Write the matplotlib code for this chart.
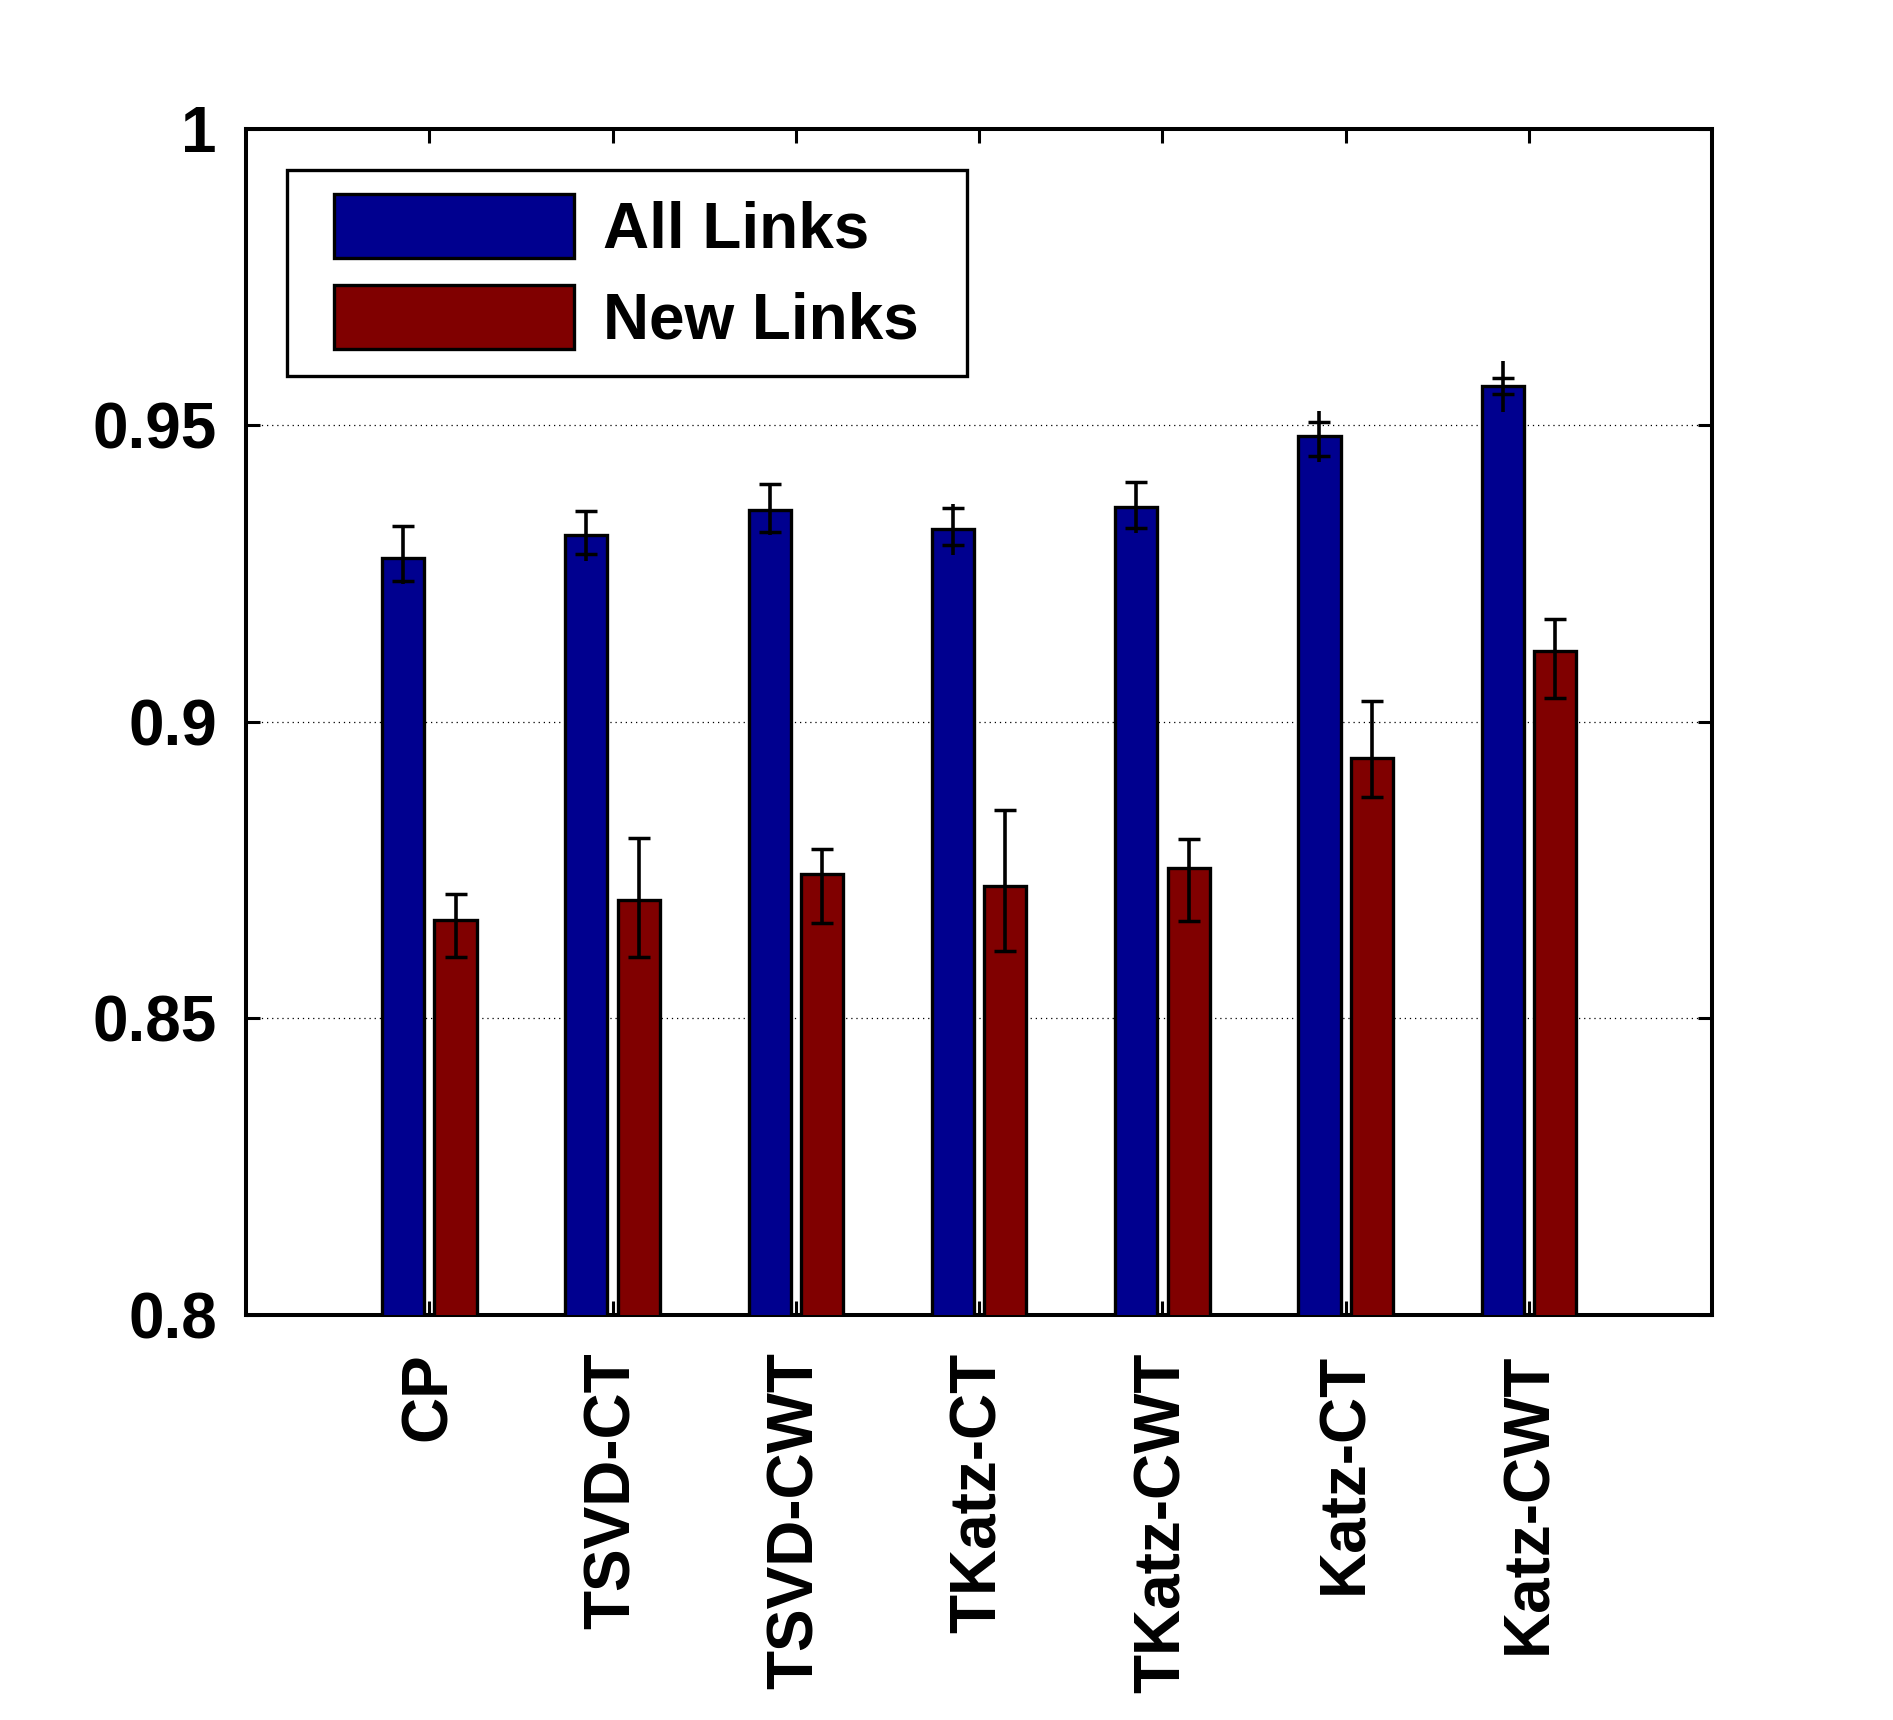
import matplotlib
matplotlib.use("Agg")
import matplotlib.pyplot as plt
from matplotlib.container import BarContainer
from matplotlib.legend_handler import HandlerPatch, update_from_first_child
import numpy as np

plt.rcParams['font.family'] = ['Liberation Sans', 'DejaVu Sans']
plt.rcParams['font.weight'] = 'bold'

# methods on the x axis
methods = ['CP', 'TSVD-CT', 'TSVD-CWT', 'TKatz-CT', 'TKatz-CWT', 'Katz-CT', 'Katz-CWT']

# bar heights
all_links = [0.9276, 0.9315, 0.9358, 0.9325, 0.9362, 0.9483, 0.9566]
new_links = [0.8666, 0.8700, 0.8743, 0.8724, 0.8753, 0.8939, 0.9119]

# error bar caps (low / high)
all_cap_lo = [0.9237, 0.9284, 0.9321, 0.9298, 0.9327, 0.9448, 0.9553]
all_cap_hi = [0.9330, 0.9355, 0.9402, 0.9361, 0.9404, 0.9506, 0.9580]
new_cap_lo = [0.8603, 0.8603, 0.8661, 0.8614, 0.8664, 0.8874, 0.9040]
new_cap_hi = [0.8710, 0.8804, 0.8785, 0.8852, 0.8802, 0.9035, 0.9173]

# whisker ends of the all-links error bars (they run past the caps a bit)
all_wh_lo = [0.9233, 0.9271, 0.9315, 0.9281, 0.9318, 0.9439, 0.9522]
all_wh_hi = [0.9330, 0.9355, 0.9402, 0.9367, 0.9404, 0.9525, 0.9608]

yticks = [0.8, 0.85, 0.9, 0.95, 1.0]
ytick_labels = ['0.8', '0.85', '0.9', '0.95', '1']

blue = '#00008F'
red = '#800000'
lw = 2.4
fs = 46

fig = plt.figure(figsize=(18.93, 17.2), dpi=100)
ax = fig.add_axes([0.130, 0.2355, 0.7745, 0.6895])

x = np.arange(1, len(methods) + 1)
off = 0.143
width = 0.23

ax.bar(x - off, all_links, width, bottom=0, color=blue, edgecolor='black',
       linewidth=lw, label='All Links', zorder=3)
ax.bar(x + off, new_links, width, bottom=0, color=red, edgecolor='black',
       linewidth=lw, label='New Links', zorder=3)

# whiskers
ax.vlines(x - off, all_wh_lo, all_wh_hi, color='black', linewidth=2.6, zorder=4)
ax.vlines(x + off, new_cap_lo, new_cap_hi, color='black', linewidth=2.6, zorder=4)
# caps
for xs, lo, hi in [(x - off, all_cap_lo, all_cap_hi), (x + off, new_cap_lo, new_cap_hi)]:
    ax.plot(xs, lo, '_', color='black', ms=16.3, mew=2.5, zorder=4, linestyle='none')
    ax.plot(xs, hi, '_', color='black', ms=16.3, mew=2.5, zorder=4, linestyle='none')

ax.set_xlim(0, 8)
ax.set_ylim(0.8, 1.0)
ax.set_xticks(x)
ax.set_xticklabels(methods, rotation=90, fontsize=fs, fontweight='bold')
ax.set_yticks(yticks)
ax.set_yticklabels(ytick_labels, fontsize=fs, fontweight='bold')

ax.tick_params(axis='both', direction='in', length=10, width=2.2,
               top=True, right=True)
ax.tick_params(axis='x', pad=27)
ax.tick_params(axis='y', pad=21)

ax.yaxis.grid(True, color='black', linewidth=0.9, linestyle=(0, (1, 3.1)), zorder=0)
ax.set_axisbelow(True)
for sp in ax.spines.values():
    sp.set_linewidth(2.9)

# legend: patches pushed in from the left edge of the box
handler = HandlerPatch(xpad=0.36, update_func=update_from_first_child)
leg = ax.legend(loc='upper left', bbox_to_anchor=(0.0278, 0.9654, 0.4636, 0.0),
                mode='expand', prop={'weight': 'bold', 'size': fs},
                fancybox=False, framealpha=1, edgecolor='black',
                handlelength=4.12, handleheight=1.16, labelspacing=0.375,
                borderpad=0.38, handletextpad=0.45, borderaxespad=0,
                handler_map={BarContainer: handler})
leg.get_frame().set_linewidth(2.4)

fig.savefig('out.png', dpi=100)
